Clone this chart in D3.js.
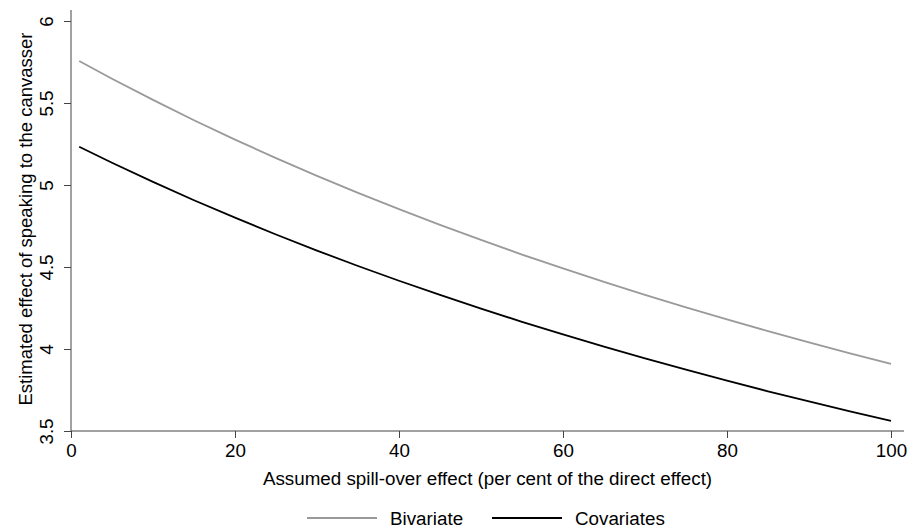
<!DOCTYPE html>
<html>
<head>
<meta charset="utf-8">
<script src="https://cdn.jsdelivr.net/npm/d3@7"></script>
<style>
  body { margin: 0; background: #fff; }
  text { font-family: "Liberation Sans", Arial, sans-serif; fill: #000; }
</style>
</head>
<body>
<div id="chart"></div>
<script>
// Data
var spill = [1, 5, 10, 15, 20, 25, 30, 35, 40, 45, 50, 55, 60, 65, 70, 75, 80, 85, 90, 95, 100];
var bivariate = [5.756, 5.648, 5.519, 5.395, 5.277, 5.164, 5.056, 4.952, 4.853, 4.757, 4.665,
                 4.576, 4.491, 4.409, 4.330, 4.254, 4.180, 4.109, 4.040, 3.973, 3.909];
var covariates = [5.233, 5.136, 5.019, 4.907, 4.801, 4.698, 4.600, 4.506, 4.416, 4.330, 4.246,
                  4.166, 4.089, 4.015, 3.943, 3.874, 3.807, 3.742, 3.680, 3.620, 3.561];
var x_ticks = [0, 20, 40, 60, 80, 100];
var y_ticks = [3.5, 4, 4.5, 5, 5.5, 6];
var series_names = ["Bivariate", "Covariates"];

// Graph dimensions
var chart = {width: 909, height: 529};
var plot = {left: 71, right: 904, top: 10, bottom: 431};
var font_size = 18.8;

// Line colors
var color = d3.scaleOrdinal()
    .domain(series_names)
    .range(["#9a9a9a", "#000000"]);

//---------------------------------------Scales---------------------------------------
var x = d3.scaleLinear()
    .domain([0, 100])
    .range([71, 891]);

var y = d3.scaleLinear()
    .domain([3.5, 6])
    .range([431, 21]);

//---------------------------------------Drawing---------------------------------------
var svg = d3.select("#chart")
    .append("svg")
    .attr("width", chart.width)
    .attr("height", chart.height);

// Curves
var line = d3.line()
    .x(function(d) { return x(d[0]); })
    .y(function(d) { return y(d[1]); });

var series = [
    {name: "Bivariate", values: d3.zip(spill, bivariate)},
    {name: "Covariates", values: d3.zip(spill, covariates)}
];

svg.selectAll(".curve")
    .data(series)
    .enter().append("path")
    .attr("class", "curve")
    .attr("fill", "none")
    .attr("stroke", function(d) { return color(d.name); })
    .attr("stroke-width", 1.8)
    .attr("d", function(d) { return line(d.values); });

// y axis
var y_axis = svg.append("g")
    .attr("transform", "translate(" + plot.left + ",0)")
    .call(d3.axisLeft(y).tickValues(y_ticks).tickSize(7).tickFormat(d3.format("")));
y_axis.select(".domain").remove();
y_axis.append("line")
    .attr("y1", plot.top).attr("y2", plot.bottom)
    .attr("stroke", "#444");
y_axis.selectAll(".tick line").attr("stroke", "#444");
y_axis.selectAll(".tick text")
    .attr("font-size", font_size)
    .attr("fill", "#000")
    .attr("text-anchor", "middle")
    .attr("transform", "translate(-18,0) rotate(-90)")
    .attr("x", 0)
    .attr("dy", 0);

// x axis
var x_axis = svg.append("g")
    .attr("transform", "translate(0," + plot.bottom + ")")
    .call(d3.axisBottom(x).tickValues(x_ticks).tickSize(7));
x_axis.select(".domain").remove();
x_axis.append("line")
    .attr("x1", plot.left).attr("x2", plot.right)
    .attr("stroke", "#444");
x_axis.selectAll(".tick line").attr("stroke", "#444");
x_axis.selectAll(".tick text")
    .attr("font-size", font_size)
    .attr("fill", "#000")
    .attr("y", 26)
    .attr("dy", 0);

// Axis titles
svg.append("text")
    .attr("x", 487.5)
    .attr("y", 485)
    .attr("text-anchor", "middle")
    .attr("font-size", font_size)
    .text("Assumed spill-over effect (per cent of the direct effect)");

svg.append("text")
    .attr("transform", "translate(32,219) rotate(-90)")
    .attr("text-anchor", "middle")
    .attr("font-size", 18.5)
    .text("Estimated effect of speaking to the canvasser");

// Legend
var legend = svg.append("g")
    .selectAll("g")
    .data(series_names)
    .enter().append("g")
    .attr("transform", function(d, i) { return "translate(" + (307 + i * 185) + ",518)"; });

legend.append("line")
    .attr("x1", 0).attr("x2", 70)
    .attr("stroke", color)
    .attr("stroke-width", 1.8);

legend.append("text")
    .attr("x", 83)
    .attr("y", 6.5)
    .attr("font-size", font_size)
    .text(function(d) { return d; });
</script>
</body>
</html>
